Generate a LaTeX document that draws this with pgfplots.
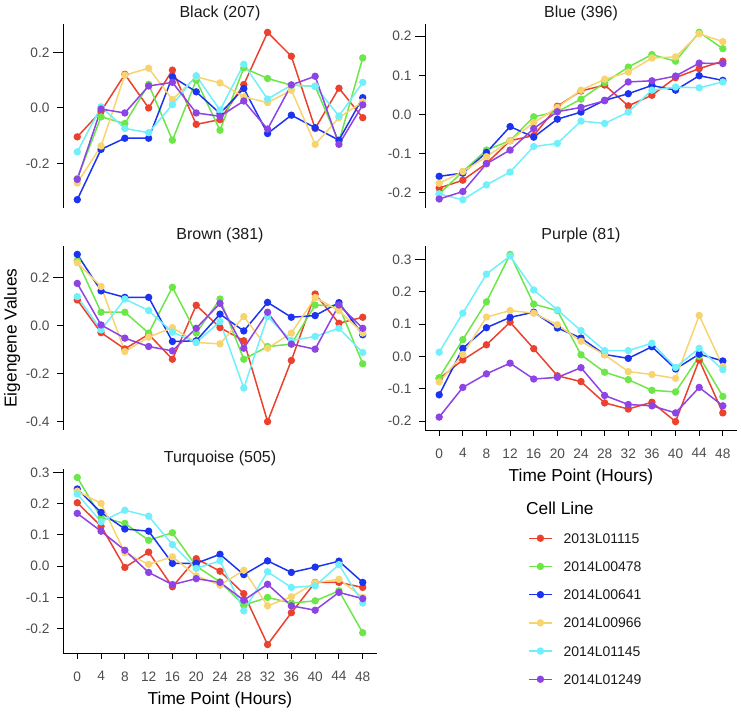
\documentclass[border=0pt]{standalone}
\usepackage{fontspec}
\setmainfont{Liberation Sans}
\usepackage{pgfplots}
\pgfplotsset{compat=1.18}
\usepackage{pgfplotstable}

\definecolor{cR}{RGB}{234,66,46}
\definecolor{cG}{RGB}{108,230,72}
\definecolor{cB}{RGB}{28,52,240}
\definecolor{cY}{RGB}{248,212,112}
\definecolor{cC}{RGB}{112,240,250}
\definecolor{cP}{RGB}{142,67,228}
\definecolor{tickgray}{RGB}{77,77,77}
\definecolor{txt}{RGB}{26,26,26}

\pgfplotstableread{
t r g b y c p
0 -0.104 -0.254 -0.330 -0.270 -0.158 -0.257
4 -0.012 -0.032 -0.149 -0.137 0.004 -0.004
8 0.121 -0.056 -0.109 0.118 -0.074 -0.018
12 0.000 0.085 -0.109 0.143 -0.089 0.079
16 0.136 -0.116 0.112 0.030 0.012 0.092
20 -0.059 0.100 0.058 0.112 0.116 -0.018
24 -0.042 -0.080 -0.020 0.090 -0.008 -0.030
28 0.084 0.144 0.070 0.040 0.157 0.025
32 0.272 0.106 -0.092 0.019 0.032 -0.076
36 0.186 0.082 -0.026 0.064 0.082 0.083
40 -0.074 0.078 -0.071 -0.131 0.078 0.114
44 0.071 -0.122 -0.116 -0.035 -0.029 -0.131
48 -0.035 0.180 0.037 0.022 0.092 0.011
}\tblack

\pgfplotstableread{
t r g b y c p
0 -0.188 -0.203 -0.158 -0.176 -0.203 -0.216
4 -0.168 -0.146 -0.150 -0.146 -0.218 -0.197
8 -0.125 -0.091 -0.097 -0.108 -0.180 -0.126
12 -0.067 -0.067 -0.031 -0.067 -0.147 -0.091
16 -0.054 -0.006 -0.058 -0.021 -0.082 -0.036
20 0.021 0.007 -0.012 0.018 -0.074 0.007
24 0.060 0.039 0.006 0.062 -0.017 0.018
28 0.075 0.081 0.036 0.090 -0.023 0.035
32 0.022 0.121 0.053 0.108 0.006 0.083
36 0.049 0.153 0.074 0.144 0.062 0.086
40 0.094 0.136 0.062 0.147 0.070 0.098
44 0.117 0.210 0.099 0.206 0.068 0.131
48 0.136 0.168 0.087 0.186 0.083 0.130
}\tblue

\pgfplotstableread{
t r g b y c p
0 0.108 0.272 0.298 0.263 0.122 0.177
4 -0.028 0.057 0.146 0.164 -0.017 0.004
8 -0.096 0.057 0.119 -0.107 0.112 -0.051
12 -0.035 -0.030 0.119 -0.047 0.064 -0.086
16 -0.139 0.161 -0.065 -0.007 -0.026 -0.104
20 0.086 -0.030 -0.062 -0.069 -0.069 -0.010
24 -0.007 0.112 0.049 -0.075 0.018 0.094
28 -0.062 -0.139 -0.021 0.039 -0.259 -0.093
32 -0.399 -0.086 0.098 -0.093 0.039 0.057
36 -0.144 -0.076 0.036 -0.030 -0.061 -0.076
40 0.133 0.087 0.043 0.118 -0.044 -0.097
44 0.011 0.083 0.097 0.064 -0.010 0.087
48 0.036 -0.158 -0.037 -0.030 -0.111 -0.010
}\tbrown

\pgfplotstableread{
t r g b y c p
0 -0.069 -0.066 -0.119 -0.079 0.013 -0.188
4 -0.011 0.052 0.025 0.006 0.134 -0.096
8 0.036 0.169 0.089 0.122 0.255 -0.054
12 0.106 0.316 0.121 0.142 0.311 -0.021
16 0.024 0.162 0.137 0.134 0.206 -0.070
20 -0.060 0.142 0.088 0.098 0.144 -0.065
24 -0.078 0.005 0.057 0.047 0.080 -0.035
28 -0.144 -0.049 0.006 0.005 0.018 -0.121
32 -0.163 -0.072 -0.006 -0.047 0.018 -0.149
36 -0.142 -0.105 0.030 -0.056 0.041 -0.153
40 -0.202 -0.110 -0.039 -0.068 -0.034 -0.175
44 -0.011 0.000 0.007 0.127 0.025 -0.096
48 -0.175 -0.124 -0.014 -0.031 -0.041 -0.153
}\tpurple

\pgfplotstableread{
t r g b y c p
0 0.203 0.284 0.247 0.240 0.231 0.169
4 0.128 0.156 0.172 0.201 0.142 0.112
8 -0.004 0.137 0.119 0.043 0.179 0.051
12 0.045 0.083 0.112 0.006 0.160 -0.020
16 -0.066 0.107 0.009 0.030 0.069 -0.059
20 0.024 0.000 0.009 -0.031 -0.007 -0.040
24 -0.016 -0.050 0.038 -0.061 0.017 -0.052
28 -0.088 -0.125 -0.027 -0.013 -0.143 -0.109
32 -0.251 -0.100 0.017 -0.127 -0.018 -0.058
36 -0.149 -0.118 -0.020 -0.098 -0.068 -0.127
40 -0.052 -0.111 -0.003 -0.053 -0.063 -0.141
44 -0.052 -0.079 0.016 -0.042 0.005 -0.084
48 -0.068 -0.213 -0.052 -0.100 -0.118 -0.104
}\tturq

\pgfplotsset{
  panel/.style={
    scale only axis, height=184pt,
    xmin=-2.4, xmax=50.4,
    axis y line*=left,
    axis line style={line width=0.9pt, black, -},
    tick align=outside, major tick length=6pt,
    tick style={line width=0.9pt, black},
    ytick style={shorten <=-4pt},
    xtick={0,4,...,48},
    /pgf/number format/assume math mode=true,
    tick label style={font=\fontsize{13.7}{16}\selectfont, text=tickgray},
    yticklabel style={xshift=-4pt},
    xticklabel style={yshift=-9pt},
    title style={font=\fontsize{16}{19}\selectfont, text=txt, yshift=-6pt},
    label style={font=\fontsize{17.3}{20}\selectfont, text=black},
    xlabel style={yshift=-4pt},
    every axis plot/.append style={line width=1.5pt, mark=*, mark size=2.9pt},
    clip=false,
  },
  noxaxis/.style={axis x line=none},
  withx/.style={axis x line*=bottom, xlabel={Time Point (Hours)}},
  legend image code/.code={%
    \draw[mark repeat=2,mark phase=2,#1] plot coordinates {(0pt,0pt) (11.5pt,0pt) (23pt,0pt)};},
}

\newcommand\sixlines[1]{%
  \addplot[color=cR] table[x=t,y=r]{#1};
  \addplot[color=cG] table[x=t,y=g]{#1};
  \addplot[color=cB] table[x=t,y=b]{#1};
  \addplot[color=cY] table[x=t,y=y]{#1};
  \addplot[color=cC] table[x=t,y=c]{#1};
  \addplot[color=cP] table[x=t,y=p]{#1};
}

\begin{document}
\begin{tikzpicture}
\path[use as bounding box] (0pt,0pt) rectangle (741pt,-713pt);

% Black
\begin{axis}[panel, noxaxis, width=314pt, at={(63pt,-208pt)}, anchor=south west,
  ymin=-0.36, ymax=0.302,
  ytick={-0.2,0,0.2}, yticklabels={-0.2,0.0,0.2},
  title={Black (207)}]
\sixlines{\tblack}
\end{axis}

% Blue
\begin{axis}[panel, noxaxis, width=312pt, at={(425pt,-208pt)}, anchor=south west,
  ymin=-0.239, ymax=0.231,
  ytick={-0.2,-0.1,0,0.1,0.2}, yticklabels={-0.2,-0.1,0.0,0.1,0.2},
  title={Blue (396)}]
\sixlines{\tblue}
\end{axis}

% Brown
\begin{axis}[panel, noxaxis, width=314pt, at={(63pt,-430pt)}, anchor=south west,
  ymin=-0.434, ymax=0.333,
  ytick={-0.4,-0.2,0,0.2}, yticklabels={-0.4,-0.2,0.0,0.2},
  title={Brown (381)},
  ylabel={Eigengene Values},
  ylabel style={at={(axis description cs:-0.162,0.5)}, anchor=center}]
\sixlines{\tbrown}
\end{axis}

% Purple
\begin{axis}[panel, withx, width=312pt, at={(425pt,-430pt)}, anchor=south west,
  ymin=-0.228, ymax=0.342,
  ytick={-0.2,-0.1,0,0.1,0.2,0.3}, yticklabels={-0.2,-0.1,0.0,0.1,0.2,0.3},
  title={Purple (81)},
  legend style={at={(axis description cs:0.33,-0.56)}, anchor=north west,
    draw=none, fill=none, inner sep=0pt,
    font=\fontsize{14}{16}\selectfont, text=txt,
    nodes={inner sep=0pt, text height=10pt, text depth=0pt},
    row sep=18.2pt,
    /tikz/every odd column/.append style={column sep=11pt}},
  legend cell align=left]
\sixlines{\tpurple}
\legend{2013L01115,2014L00478,2014L00641,2014L00966,2014L01145,2014L01249}
\end{axis}

% Turquoise
\begin{axis}[panel, withx, width=314pt, at={(63pt,-653pt)}, anchor=south west,
  ymin=-0.278, ymax=0.311,
  ytick={-0.2,-0.1,0,0.1,0.2,0.3}, yticklabels={-0.2,-0.1,0.0,0.1,0.2,0.3},
  title={Turquoise (505)}]
\sixlines{\tturq}
\end{axis}

\node[anchor=west, inner sep=0pt, font=\fontsize{17.3}{20}\selectfont] at (526pt,-508pt) {Cell Line};
\end{tikzpicture}
\end{document}
